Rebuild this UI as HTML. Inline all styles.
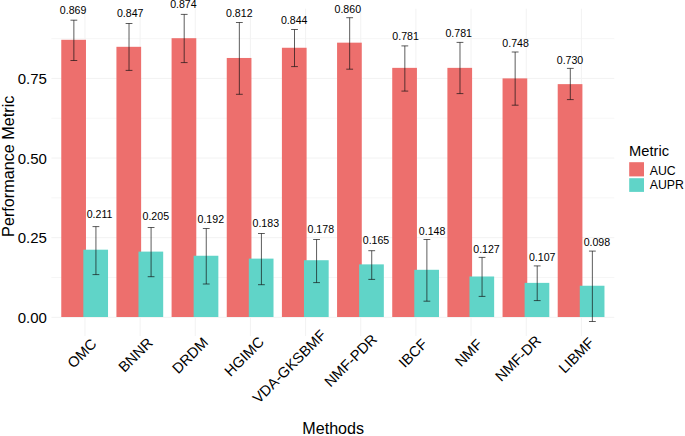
<!DOCTYPE html>
<html><head><meta charset="utf-8"><title>Performance Metric by Methods</title>
<style>
html,body{margin:0;padding:0;background:#fff;}
body{width:685px;height:436px;overflow:hidden;}
svg{display:block;font-family:"Liberation Sans", sans-serif;}
text{fill:#000;}
.grid line{stroke:#f2f2f2;stroke-width:1;}
.mgrid line{stroke:#f4f4f4;stroke-width:0.8;}
.err line{stroke:#111;stroke-opacity:0.72;stroke-width:0.95;}
</style></head><body>
<svg width="685" height="436" viewBox="0 0 685 436">
<rect width="685" height="436" fill="#fff"/>
<g class="mgrid">
<line x1="51.4" x2="614.3" y1="277.49" y2="277.49"/>
<line x1="51.4" x2="614.3" y1="197.86" y2="197.86"/>
<line x1="51.4" x2="614.3" y1="118.24" y2="118.24"/>
<line x1="51.4" x2="614.3" y1="38.61" y2="38.61"/>
</g><g class="grid">
<line x1="51.4" x2="614.3" y1="317.30" y2="317.30"/>
<line x1="51.4" x2="614.3" y1="237.68" y2="237.68"/>
<line x1="51.4" x2="614.3" y1="158.05" y2="158.05"/>
<line x1="51.4" x2="614.3" y1="78.43" y2="78.43"/>
<line x1="84.95" x2="84.95" y1="8.7" y2="336"/>
<line x1="140.11" x2="140.11" y1="8.7" y2="336"/>
<line x1="195.27" x2="195.27" y1="8.7" y2="336"/>
<line x1="250.43" x2="250.43" y1="8.7" y2="336"/>
<line x1="305.59" x2="305.59" y1="8.7" y2="336"/>
<line x1="360.75" x2="360.75" y1="8.7" y2="336"/>
<line x1="415.91" x2="415.91" y1="8.7" y2="336"/>
<line x1="471.07" x2="471.07" y1="8.7" y2="336"/>
<line x1="526.23" x2="526.23" y1="8.7" y2="336"/>
<line x1="581.39" x2="581.39" y1="8.7" y2="336"/>
</g>
<g>
<rect x="61.27" y="39.79" width="24.7" height="277.21" fill="#ED6F6D"/>
<rect x="83.33" y="249.69" width="24.7" height="67.31" fill="#60D4C8"/>
<rect x="116.43" y="46.81" width="24.7" height="270.19" fill="#ED6F6D"/>
<rect x="138.49" y="251.61" width="24.7" height="65.39" fill="#60D4C8"/>
<rect x="171.59" y="38.19" width="24.7" height="278.81" fill="#ED6F6D"/>
<rect x="193.65" y="255.75" width="24.7" height="61.25" fill="#60D4C8"/>
<rect x="226.75" y="57.97" width="24.7" height="259.03" fill="#ED6F6D"/>
<rect x="248.81" y="258.62" width="24.7" height="58.38" fill="#60D4C8"/>
<rect x="281.91" y="47.76" width="24.7" height="269.24" fill="#ED6F6D"/>
<rect x="303.97" y="260.22" width="24.7" height="56.78" fill="#60D4C8"/>
<rect x="337.07" y="42.66" width="24.7" height="274.34" fill="#ED6F6D"/>
<rect x="359.13" y="264.37" width="24.7" height="52.63" fill="#60D4C8"/>
<rect x="392.23" y="67.86" width="24.7" height="249.14" fill="#ED6F6D"/>
<rect x="414.29" y="269.79" width="24.7" height="47.21" fill="#60D4C8"/>
<rect x="447.39" y="67.86" width="24.7" height="249.14" fill="#ED6F6D"/>
<rect x="469.45" y="276.49" width="24.7" height="40.51" fill="#60D4C8"/>
<rect x="502.55" y="78.39" width="24.7" height="238.61" fill="#ED6F6D"/>
<rect x="524.61" y="282.87" width="24.7" height="34.13" fill="#60D4C8"/>
<rect x="557.71" y="84.13" width="24.7" height="232.87" fill="#ED6F6D"/>
<rect x="579.77" y="285.74" width="24.7" height="31.26" fill="#60D4C8"/>
</g>
<g class="err">
<line x1="73.87" x2="73.87" y1="20.2" y2="60.5"/><line x1="70.47" x2="77.27" y1="20.2" y2="20.2"/><line x1="70.47" x2="77.27" y1="60.5" y2="60.5"/>
<line x1="95.93" x2="95.93" y1="226.6" y2="274.6"/><line x1="92.53" x2="99.33" y1="226.6" y2="226.6"/><line x1="92.53" x2="99.33" y1="274.6" y2="274.6"/>
<line x1="129.03" x2="129.03" y1="23.5" y2="70.4"/><line x1="125.63" x2="132.43" y1="23.5" y2="23.5"/><line x1="125.63" x2="132.43" y1="70.4" y2="70.4"/>
<line x1="151.09" x2="151.09" y1="227.5" y2="276.7"/><line x1="147.69" x2="154.49" y1="227.5" y2="227.5"/><line x1="147.69" x2="154.49" y1="276.7" y2="276.7"/>
<line x1="184.19" x2="184.19" y1="14.4" y2="62.6"/><line x1="180.79" x2="187.59" y1="14.4" y2="14.4"/><line x1="180.79" x2="187.59" y1="62.6" y2="62.6"/>
<line x1="206.25" x2="206.25" y1="228.5" y2="284.0"/><line x1="202.85" x2="209.65" y1="228.5" y2="228.5"/><line x1="202.85" x2="209.65" y1="284.0" y2="284.0"/>
<line x1="239.35" x2="239.35" y1="22.5" y2="94.3"/><line x1="235.95" x2="242.75" y1="22.5" y2="22.5"/><line x1="235.95" x2="242.75" y1="94.3" y2="94.3"/>
<line x1="261.41" x2="261.41" y1="233.5" y2="284.7"/><line x1="258.01" x2="264.81" y1="233.5" y2="233.5"/><line x1="258.01" x2="264.81" y1="284.7" y2="284.7"/>
<line x1="294.51" x2="294.51" y1="29.5" y2="66.6"/><line x1="291.11" x2="297.91" y1="29.5" y2="29.5"/><line x1="291.11" x2="297.91" y1="66.6" y2="66.6"/>
<line x1="316.57" x2="316.57" y1="239.5" y2="282.6"/><line x1="313.17" x2="319.97" y1="239.5" y2="239.5"/><line x1="313.17" x2="319.97" y1="282.6" y2="282.6"/>
<line x1="349.67" x2="349.67" y1="17.7" y2="69.2"/><line x1="346.27" x2="353.07" y1="17.7" y2="17.7"/><line x1="346.27" x2="353.07" y1="69.2" y2="69.2"/>
<line x1="371.73" x2="371.73" y1="250.7" y2="279.4"/><line x1="368.33" x2="375.13" y1="250.7" y2="250.7"/><line x1="368.33" x2="375.13" y1="279.4" y2="279.4"/>
<line x1="404.83" x2="404.83" y1="45.9" y2="91.1"/><line x1="401.43" x2="408.23" y1="45.9" y2="45.9"/><line x1="401.43" x2="408.23" y1="91.1" y2="91.1"/>
<line x1="426.89" x2="426.89" y1="239.5" y2="301.2"/><line x1="423.49" x2="430.29" y1="239.5" y2="239.5"/><line x1="423.49" x2="430.29" y1="301.2" y2="301.2"/>
<line x1="459.99" x2="459.99" y1="42.4" y2="93.6"/><line x1="456.59" x2="463.39" y1="42.4" y2="42.4"/><line x1="456.59" x2="463.39" y1="93.6" y2="93.6"/>
<line x1="482.05" x2="482.05" y1="257.4" y2="296.4"/><line x1="478.65" x2="485.45" y1="257.4" y2="257.4"/><line x1="478.65" x2="485.45" y1="296.4" y2="296.4"/>
<line x1="515.15" x2="515.15" y1="52.0" y2="105.2"/><line x1="511.75" x2="518.55" y1="52.0" y2="52.0"/><line x1="511.75" x2="518.55" y1="105.2" y2="105.2"/>
<line x1="537.21" x2="537.21" y1="265.9" y2="300.6"/><line x1="533.81" x2="540.61" y1="265.9" y2="265.9"/><line x1="533.81" x2="540.61" y1="300.6" y2="300.6"/>
<line x1="570.31" x2="570.31" y1="68.4" y2="99.6"/><line x1="566.91" x2="573.71" y1="68.4" y2="68.4"/><line x1="566.91" x2="573.71" y1="99.6" y2="99.6"/>
<line x1="592.37" x2="592.37" y1="251.1" y2="321.5"/><line x1="588.97" x2="595.77" y1="251.1" y2="251.1"/><line x1="588.97" x2="595.77" y1="321.5" y2="321.5"/>
</g>
<g font-size="10.6" text-anchor="middle">
<text x="73.1" y="14.1">0.869</text>
<text x="99.6" y="218.1">0.211</text>
<text x="130.2" y="16.9">0.847</text>
<text x="155.8" y="220.4">0.205</text>
<text x="183.4" y="8.1">0.874</text>
<text x="210.8" y="222.6">0.192</text>
<text x="239.3" y="16.9">0.812</text>
<text x="265.8" y="226.6">0.183</text>
<text x="294.2" y="23.9">0.844</text>
<text x="320.8" y="233.4">0.178</text>
<text x="347.8" y="12.8">0.860</text>
<text x="376.0" y="244.0">0.165</text>
<text x="405.6" y="39.8">0.781</text>
<text x="432.1" y="234.6">0.148</text>
<text x="458.7" y="36.9">0.781</text>
<text x="486.5" y="252.5">0.127</text>
<text x="515.6" y="46.9">0.748</text>
<text x="542.2" y="260.7">0.107</text>
<text x="570.0" y="63.8">0.730</text>
<text x="596.9" y="245.8">0.098</text>
</g>
<g font-size="15" text-anchor="end">
<text transform="translate(46.9,323.00) scale(1,1)">0.00</text>
<text transform="translate(46.9,243.38) scale(1,1)">0.25</text>
<text transform="translate(46.9,163.75) scale(1,1)">0.50</text>
<text transform="translate(46.9,84.13) scale(1,1)">0.75</text>
</g>
<g font-size="14.6">
<text transform="translate(97.47,344.88) rotate(-45) scale(1,1)" text-anchor="end">OMC</text>
<text transform="translate(153.66,343.85) rotate(-45) scale(1,1)" text-anchor="end">BNNR</text>
<text transform="translate(209.16,343.51) rotate(-45) scale(1,1)" text-anchor="end">DRDM</text>
<text transform="translate(265.01,342.82) rotate(-45) scale(1,1)" text-anchor="end">HGIMC</text>
<text transform="translate(326.94,336.05) rotate(-45) scale(1,1)" text-anchor="end">VDA-GKSBMF</text>
<text transform="translate(377.97,340.18) rotate(-45) scale(1,1)" text-anchor="end">NMF-PDR</text>
<text transform="translate(428.31,345.00) rotate(-45) scale(1,1)" text-anchor="end">IBCF</text>
<text transform="translate(483.24,345.23) rotate(-45) scale(1,1)" text-anchor="end">NMF</text>
<text transform="translate(542.07,341.56) rotate(-45) scale(1,1)" text-anchor="end">NMF-DR</text>
<text transform="translate(595.17,343.62) rotate(-45) scale(1,1)" text-anchor="end">LIBMF</text>
</g>
<text font-size="16.1" text-anchor="middle" transform="translate(333.2,434.4) scale(1,1)">Methods</text>
<text font-size="16.2" text-anchor="middle" transform="translate(13.6,166.3) rotate(-90) scale(1,1)">Performance Metric</text>
<text font-size="14.7" transform="translate(629.0,155.7) scale(1,1)">Metric</text>
<rect x="629.2" y="162.2" width="14.8" height="14.2" fill="#ED6F6D"/>
<rect x="629.2" y="178.2" width="14.8" height="13.7" fill="#60D4C8"/>
<text font-size="12.3" transform="translate(649.7,174.8) scale(1,1)">AUC</text>
<text font-size="12.3" transform="translate(649.7,189.2) scale(1,1)">AUPR</text>
</svg></body></html>
